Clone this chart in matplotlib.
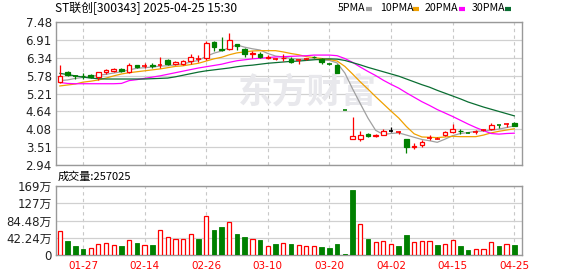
import numpy as np
import matplotlib
matplotlib.use("Agg")
import matplotlib.pyplot as plt
from matplotlib.lines import Line2D

plt.rcParams['font.family'] = ['DejaVu Sans', 'Noto Sans CJK SC']

# daily prices, 2025-01-22 .. 2025-04-25
opens = [5.58, 5.88, 5.78, 5.78, 5.80, 5.73, 5.88, 5.93, 6.00, 5.89,
         6.11, 6.07, 6.13, 6.09, 6.27, 6.14, 6.16, 6.23, 6.31, 6.33,
         6.85, 6.63, 6.62, 6.77, 6.61, 6.46, 6.45, 6.35, 6.30, 6.33,
         6.32, 6.25, 6.30, 6.38, 6.30, 6.16, 6.11, 4.70, 3.76, 3.76,
         3.93, 3.85, 3.90, 4.03, 3.98, 3.77, 3.51, 3.57, 3.80, 3.77,
         3.90, 3.98, 4.03, 3.98, 3.97, 4.03, 4.09, 4.21, 4.22, 4.28]
highs = [6.11, 5.93, 5.80, 5.87, 5.82, 5.89, 5.99, 6.02, 6.03, 6.19,
         6.13, 6.18, 6.18, 6.36, 6.30, 6.23, 6.27, 6.46, 6.43, 6.89,
         6.88, 7.01, 7.13, 6.79, 6.64, 6.56, 6.52, 6.43, 6.35, 6.45,
         6.36, 6.27, 6.35, 6.40, 6.33, 6.19, 6.14, 4.70, 4.47, 4.02,
         3.95, 3.94, 4.09, 4.15, 4.03, 3.78, 3.64, 3.73, 3.90, 3.82,
         4.03, 4.23, 4.09, 3.99, 4.05, 4.07, 4.26, 4.22, 4.28, 4.31]
lows = [5.55, 5.75, 5.66, 5.67, 5.69, 5.65, 5.84, 5.90, 5.90, 5.85,
        6.03, 6.01, 6.01, 6.02, 6.11, 6.10, 6.12, 6.15, 6.20, 6.27,
        6.56, 6.56, 6.60, 6.60, 6.36, 6.34, 6.33, 6.30, 6.26, 6.24,
        6.17, 6.14, 6.26, 6.34, 6.16, 6.13, 5.86, 4.70, 3.76, 3.71,
        3.82, 3.82, 3.88, 4.00, 3.94, 3.33, 3.46, 3.50, 3.73, 3.75,
        3.87, 3.97, 3.92, 3.96, 3.91, 4.01, 4.05, 4.11, 4.15, 4.18]
closes = [5.77, 5.80, 5.77, 5.76, 5.72, 5.88, 5.96, 6.00, 5.93, 6.10,
          6.06, 6.08, 6.07, 6.10, 6.15, 6.20, 6.24, 6.38, 6.32, 6.81,
          6.70, 6.59, 6.91, 6.72, 6.46, 6.48, 6.36, 6.37, 6.31, 6.35,
          6.22, 6.26, 6.31, 6.36, 6.20, 6.15, 5.87, 4.70, 3.86, 3.89,
          3.85, 3.90, 4.03, 4.03, 3.99, 3.52, 3.53, 3.68, 3.81, 3.78,
          4.00, 4.08, 4.01, 3.97, 3.98, 4.04, 4.22, 4.20, 4.23, 4.19]

ma5 = [5.62, 5.64, 5.69, 5.72, 5.76, 5.79, 5.82, 5.86, 5.90, 5.96,
       6.01, 6.03, 6.05, 6.08, 6.09, 6.12, 6.15, 6.21, 6.26, 6.39,
       6.49, 6.56, 6.67, 6.75, 6.68, 6.63, 6.59, 6.48, 6.40, 6.37,
       6.32, 6.30, 6.29, 6.30, 6.27, 6.26, 6.18, 5.86, 5.36, 4.89,
       4.43, 4.04, 3.91, 3.94, 3.96, 3.89, 3.82, 3.75, 3.71, 3.66,
       3.76, 3.87, 3.94, 3.97, 4.01, 4.02, 4.04, 4.08, 4.13, 4.18]
ma10 = [5.45, 5.48, 5.51, 5.57, 5.60, 5.64, 5.70, 5.77, 5.83, 5.87,
        5.90, 5.93, 5.96, 5.99, 6.03, 6.07, 6.09, 6.13, 6.17, 6.24,
        6.31, 6.36, 6.44, 6.50, 6.53, 6.56, 6.57, 6.57, 6.57, 6.53,
        6.48, 6.44, 6.38, 6.35, 6.32, 6.29, 6.24, 6.07, 5.83, 5.58,
        5.35, 5.11, 4.88, 4.65, 4.43, 4.16, 3.93, 3.83, 3.82, 3.81,
        3.83, 3.85, 3.84, 3.84, 3.84, 3.89, 3.96, 4.01, 4.05, 4.09]
ma20 = [5.56, 5.53, 5.52, 5.52, 5.52, 5.52, 5.52, 5.52, 5.53, 5.62,
        5.65, 5.69, 5.73, 5.77, 5.82, 5.87, 5.92, 5.97, 6.02, 6.06,
        6.10, 6.14, 6.20, 6.25, 6.28, 6.31, 6.33, 6.35, 6.37, 6.38,
        6.39, 6.40, 6.41, 6.43, 6.43, 6.43, 6.41, 6.32, 6.20, 6.05,
        5.91, 5.78, 5.63, 5.50, 5.38, 5.23, 5.09, 4.95, 4.83, 4.70,
        4.59, 4.48, 4.36, 4.24, 4.13, 4.03, 3.94, 3.92, 3.94, 3.95]
ma30 = [5.85, 5.81, 5.77, 5.73, 5.70, 5.68, 5.67, 5.67, 5.67, 5.67,
        5.67, 5.67, 5.68, 5.69, 5.70, 5.74, 5.79, 5.84, 5.89, 5.93,
        5.96, 5.99, 6.02, 6.06, 6.09, 6.11, 6.14, 6.17, 6.19, 6.21,
        6.23, 6.24, 6.26, 6.28, 6.30, 6.31, 6.30, 6.26, 6.19, 6.12,
        6.04, 5.97, 5.90, 5.83, 5.76, 5.67, 5.58, 5.49, 5.41, 5.31,
        5.22, 5.13, 5.04, 4.94, 4.86, 4.78, 4.71, 4.64, 4.57, 4.50]

# volume in 万 shares, and whether the day closed up vs previous day
volumes = [59, 35, 22, 15, 17, 27, 30, 25, 22, 37,
           30, 25, 25, 62, 45, 40, 40, 52, 40, 96,
           62, 69, 82, 52, 45, 40, 37, 22, 27, 30,
           27, 25, 22, 22, 20, 17, 27, 2.5, 158, 77,
           40, 32, 35, 27, 22, 50, 32, 35, 35, 25,
           27, 37, 22, 12, 15, 15, 32, 22, 27, 25.7]
vol_up = [1, 0, 0, 0, 1, 1, 1, 1, 0, 1,
          0, 1, 0, 1, 1, 1, 1, 1, 0, 1,
          0, 0, 1, 0, 0, 1, 0, 1, 0, 1,
          0, 1, 1, 1, 0, 0, 0, 0, 0, 1,
          0, 1, 1, 1, 0, 0, 1, 1, 1, 0,
          1, 1, 0, 0, 1, 1, 1, 0, 1, 0]
last_volume = 257025

date_ticks = ["01-27", "02-14", "02-26", "03-10", "03-20", "04-02", "04-15", "04-25"]
date_tick_idx = [3, 11, 19, 27, 35, 43, 51, 59]
price_ticks = ["2.94", "3.51", "4.08", "4.64", "5.21", "5.78", "6.34", "6.91", "7.48"]
vol_ticks = [0, 42.24, 84.48, 127, 169]
vol_tick_labels = ["0", "42.24万", "84.48万", "127万", "169万"]

RED = "#ff0000"
GREEN = "#008000"
ma_names = ["5PMA", "10PMA", "20PMA", "30PMA"]
ma_colors = ["#a0a0a0", "#f0a000", "#ff00ff", "#0a6e32"]
CJK = ["Noto Sans CJK SC", "DejaVu Sans"]

fig = plt.figure(figsize=(5.78, 2.76), dpi=100)
ax = fig.add_axes([56/578, 1-165/276, 466/578, 143/276])
axv = fig.add_axes([56/578, 1-255/276, 466/578, 69/276])

x = np.arange(len(closes))
o = np.array(opens); c = np.array(closes); h = np.array(highs); l = np.array(lows)

# candle colours: up red, down green, flat compared with previous close
cols = []
for i in range(len(c)):
    prev = c[i-1] if i > 0 else o[i]
    if c[i] > o[i]:
        cols.append(RED)
    elif c[i] < o[i]:
        cols.append(GREEN)
    elif c[i] > prev:
        cols.append(RED)
    elif c[i] < prev:
        cols.append(GREEN)
    else:
        cols.append("black")

# moving averages
for vals, col in zip([ma5, ma10, ma20, ma30], ma_colors):
    ax.plot(x, vals, color=col, lw=0.9, zorder=2)

w = 0.6
ax.vlines(x, l, h, colors=cols, lw=0.9, zorder=3)
for i in range(len(c)):
    bot = min(o[i], c[i])
    ht = abs(c[i] - o[i])
    if ht < 0.015:
        ax.hlines(c[i], x[i]-w/2, x[i]+w/2, colors=cols[i], lw=1.2, zorder=4)
    elif c[i] > o[i]:
        ax.bar(x[i], ht, bottom=bot, width=w, facecolor="white", edgecolor=RED, lw=0.9, zorder=4)
    else:
        ax.bar(x[i], ht, bottom=bot, width=w, facecolor=cols[i], edgecolor=cols[i], lw=0.9, zorder=4)

pt = [float(t) for t in price_ticks]
ax.set_ylim(pt[0], pt[-1])
ax.set_xlim(-0.5, len(c))
ax.set_yticks(pt)
ax.set_yticklabels(price_ticks)
ax.set_xticks(date_tick_idx)
ax.set_xticklabels([])

# volume bars
for i in range(len(volumes)):
    if vol_up[i]:
        axv.bar(x[i], volumes[i], width=0.55, facecolor="white", edgecolor=RED, lw=0.9, zorder=3)
    else:
        axv.bar(x[i], volumes[i], width=0.6, facecolor=GREEN, edgecolor=GREEN, lw=0.6, zorder=3)
axv.set_xlim(-0.5, len(c))
axv.set_ylim(0, 169)
axv.set_yticks(vol_ticks)
axv.set_yticklabels(vol_tick_labels)
axv.set_xticks(date_tick_idx)
axv.set_xticklabels(date_ticks)

for a in (ax, axv):
    a.grid(axis="y", color="#d0d0d0", lw=0.9, ls="-", zorder=0)
    a.grid(axis="x", color="#c8c8c8", lw=0.8, ls=(0, (3, 3)), zorder=0)
    a.set_axisbelow(True)
    a.tick_params(length=0, pad=3, labelsize=8.5, labelcolor="#222222")
    for s in a.spines.values():
        s.set_color("#999999")
        s.set_linewidth(1)
axv.tick_params(axis="x", labelcolor=RED, labelsize=7.5, pad=4)

# watermark
ax.text(0.54, 0.51, "东方财富", transform=ax.transAxes, fontsize=25,
        family=["Noto Sans CJK SC"], weight="bold", color="#e8e8ec",
        ha="center", va="center", zorder=1)

# title and legend
fig.text(55/578, 1-8/276, "ST联创[300343] 2025-04-25 15:30", fontsize=8.6,
         family=CJK, va="center", ha="left")
text_x = [338, 380, 425, 472]
mark_x = [366, 413, 459, 505]
for name, col, tx, mx in zip(ma_names, ma_colors, text_x, mark_x):
    fig.text(tx/578, 1-8/276, name, fontsize=7.6, family=CJK, va="center", ha="left")
    fig.add_artist(Line2D([mx/578, (mx+6)/578], [1-8.5/276, 1-8.5/276],
                          transform=fig.transFigure, color=col, lw=3,
                          solid_capstyle="butt"))

fig.text(58/578, 1-177/276, "成交量:" + str(last_volume), fontsize=8,
         family=CJK, va="center", ha="left")

fig.savefig("out.png", dpi=100, facecolor="white")
